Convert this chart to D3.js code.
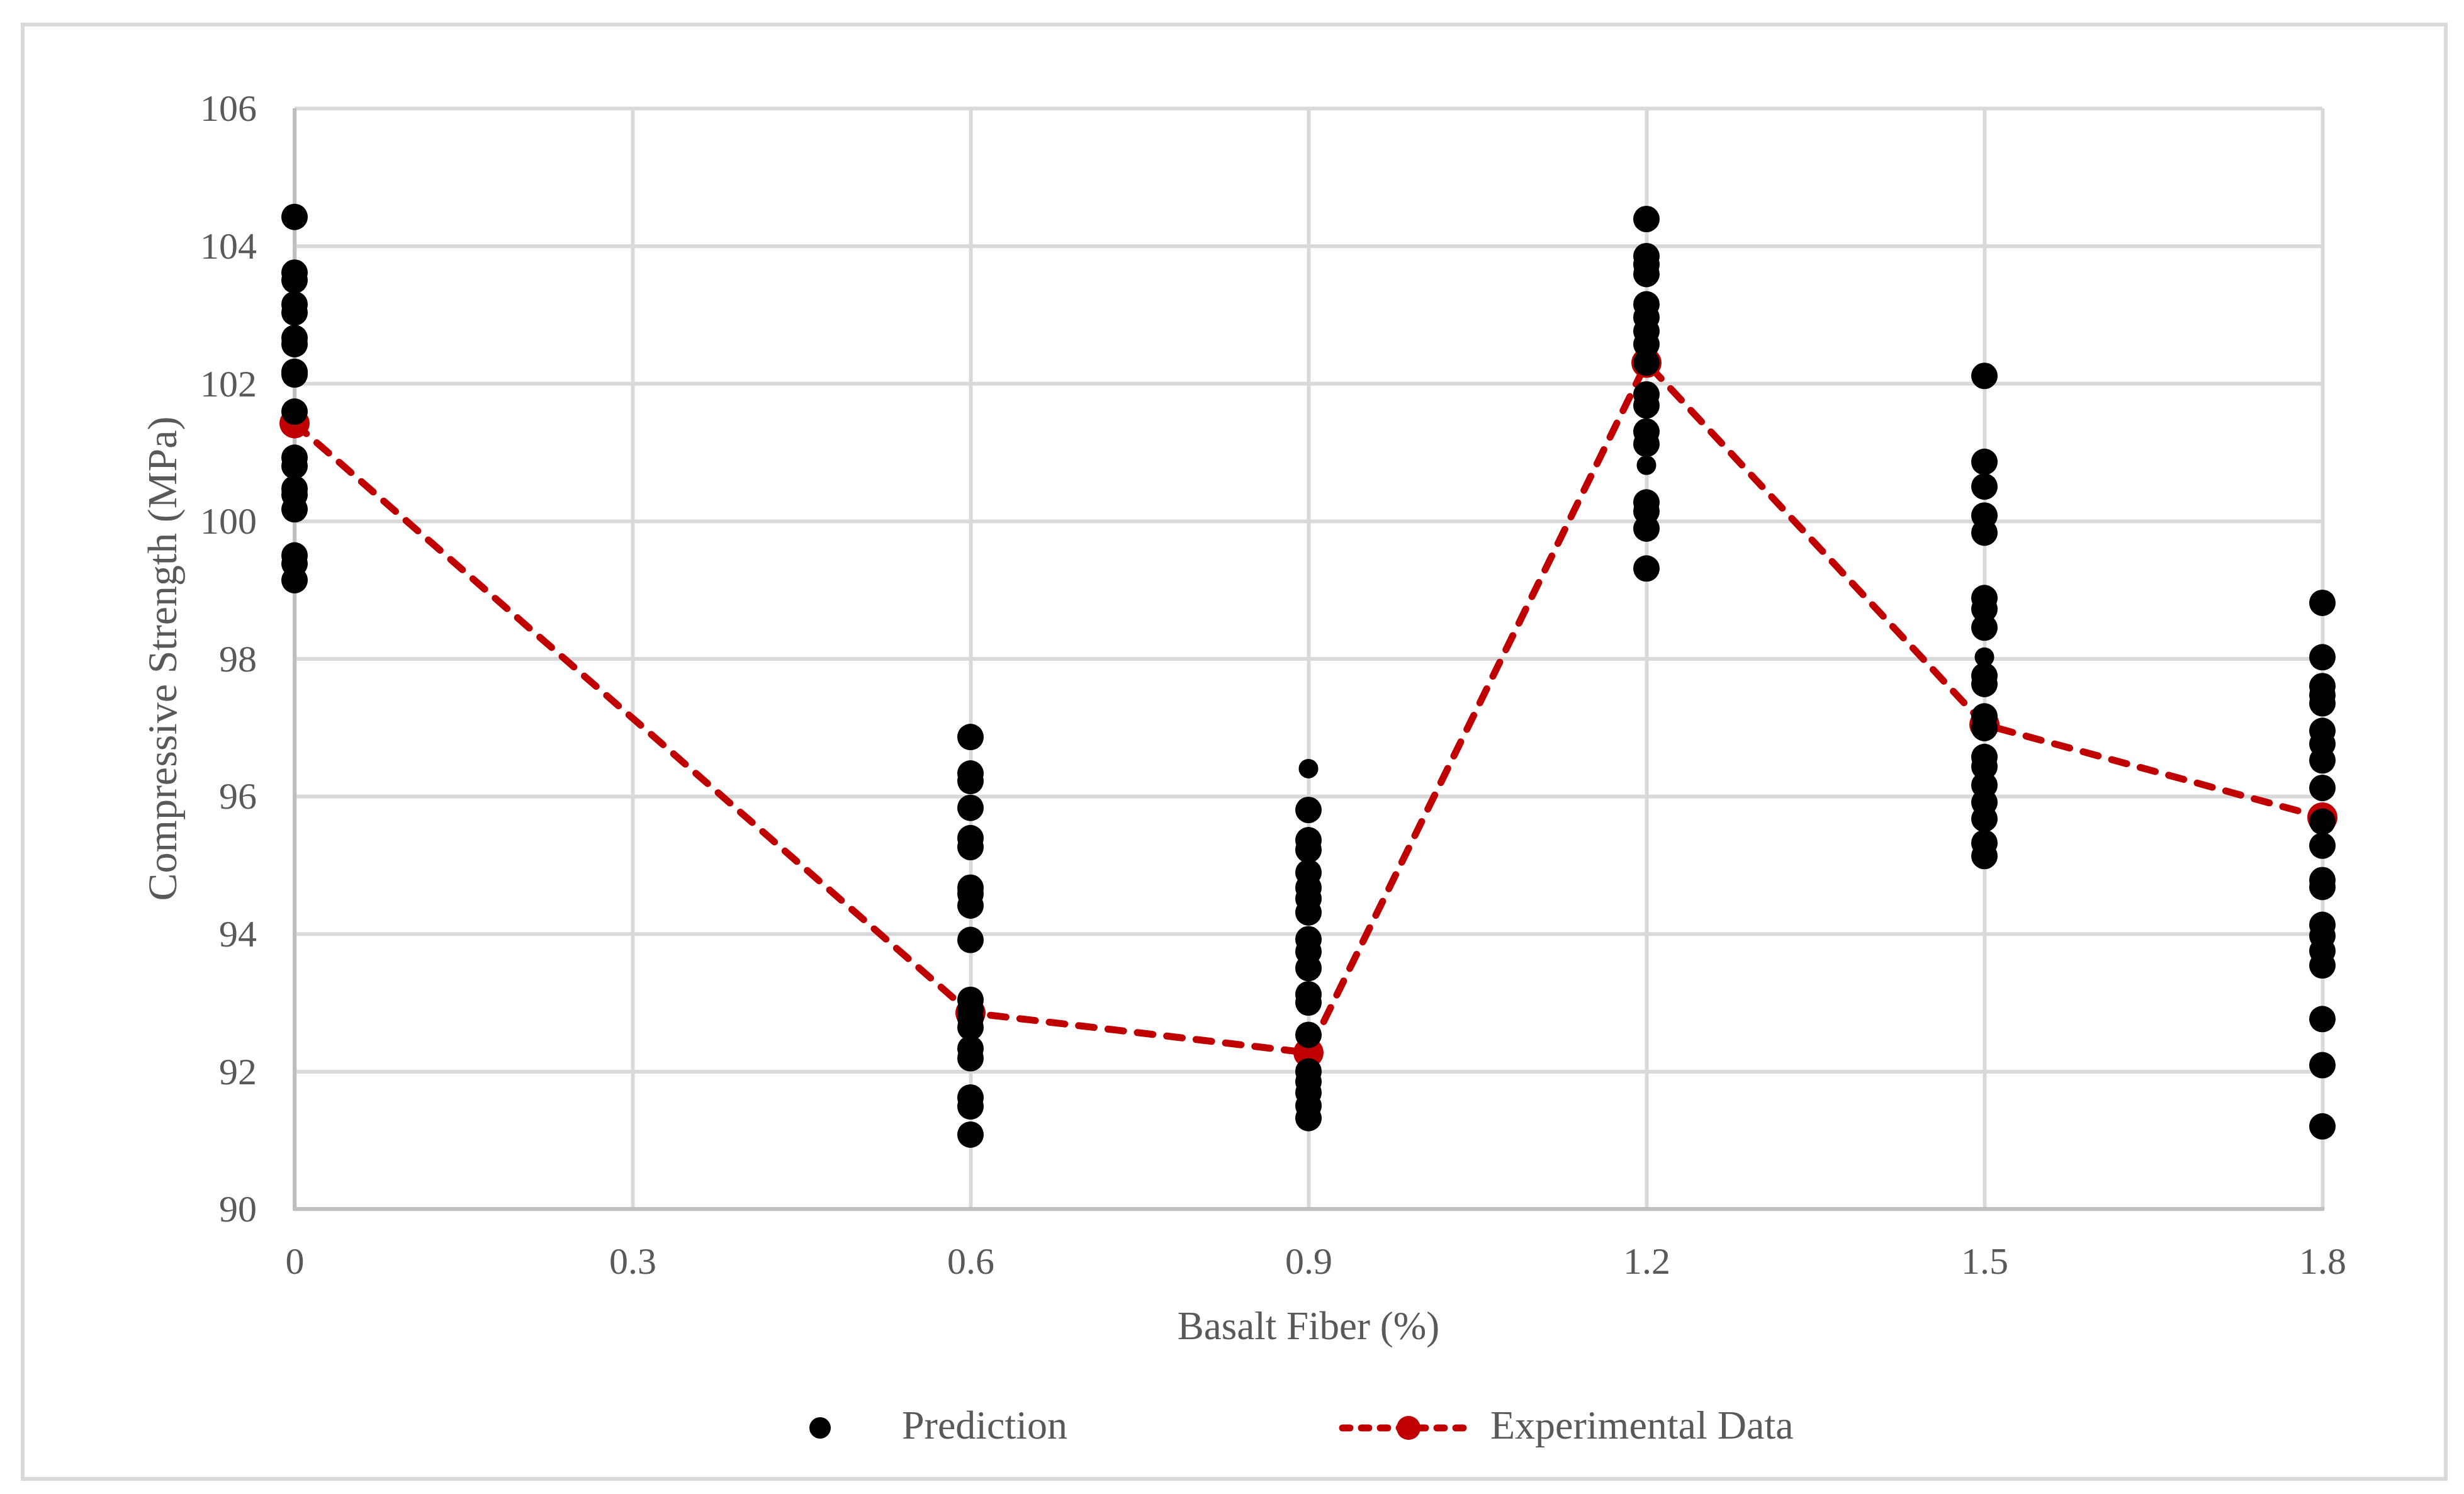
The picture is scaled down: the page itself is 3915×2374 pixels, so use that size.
<!DOCTYPE html>
<html>
<head>
<meta charset="utf-8">
<script src="https://cdn.jsdelivr.net/npm/d3@7"></script>
<style>
  html, body { margin: 0; padding: 0; background: #ffffff; }
  svg text { font-family: "Palatino Linotype", "Book Antiqua", Palatino, "Liberation Serif", serif; fill: #595959; }
</style>
</head>
<body>
<svg id="chart" width="3915" height="2374"></svg>
<script>
// ---------- data ----------
const fiberLevels = [0, 0.6, 0.9, 1.2, 1.5, 1.8];
const xTickLabels = ["0", "0.3", "0.6", "0.9", "1.2", "1.5", "1.8"];
const xTickValues = [0, 0.3, 0.6, 0.9, 1.2, 1.5, 1.8];
const yTickValues = [90, 92, 94, 96, 98, 100, 102, 104, 106];

const experimental = [101.42, 92.85, 92.27, 102.30, 97.04, 95.69];

const pred00 = [104.42, 103.61, 103.50, 103.15, 103.03, 102.66, 102.57, 102.17, 102.13, 101.59, 100.92, 100.80, 100.47, 100.38, 100.17, 99.50, 99.38, 99.14];
const pred06 = [96.86, 96.33, 96.22, 95.83, 95.39, 95.26, 94.67, 94.58, 94.41, 93.91, 93.04, 92.90, 92.77, 92.64, 92.33, 92.19, 91.62, 91.49, 91.08];
const pred09 = [95.80, 95.36, 95.22, 94.89, 94.67, 94.51, 94.31, 93.92, 93.74, 93.50, 93.12, 93.00, 92.53, 92.00, 91.85, 91.69, 91.50, 91.32];
const pred12 = [104.39, 103.85, 103.73, 103.59, 103.15, 102.96, 102.76, 102.57, 102.30, 101.84, 101.68, 101.30, 101.12, 100.27, 100.14, 99.89, 99.31];
const pred15 = [102.11, 100.86, 100.50, 100.08, 99.83, 98.88, 98.72, 98.45, 97.75, 97.63, 97.16, 96.99, 96.57, 96.43, 96.16, 95.91, 95.67, 95.32, 95.13];
const pred18 = [98.81, 98.02, 97.60, 97.47, 97.35, 96.95, 96.76, 96.52, 96.12, 95.63, 95.28, 94.78, 94.68, 94.13, 93.97, 93.75, 93.54, 92.76, 92.09, 91.20];
// a few prediction points drawn with a smaller marker in the original
const predSmallX = [0.9, 1.2, 1.5];
const predSmallY = [96.40, 100.81, 98.02];

const predictionColumns = [pred00, pred06, pred09, pred12, pred15, pred18];

// ---------- layout ----------
const svg = d3.select("#chart");
const W = 3915, H = 2374;
const plot = { left: 468, right: 3690, top: 172, bottom: 1921 };
const textColor = "#595959";
const gridColor = "#d9d9d9";
const axisColor = "#bfbfbf";
const red = "#c00000";
const fontSize = 60;

const x = d3.scaleLinear().domain([0, 1.8]).range([plot.left, plot.right]);
const y = d3.scaleLinear().domain([90, 106]).range([plot.bottom, plot.top]);

// outer border
svg.append("rect")
  .attr("x", 36).attr("y", 39)
  .attr("width", 3850).attr("height", 2311)
  .attr("fill", "#ffffff")
  .attr("stroke", gridColor).attr("stroke-width", 6);

// horizontal gridlines
const yAxis = d3.axisLeft(y).tickValues(yTickValues).tickSize(-(plot.right - plot.left)).tickPadding(60).tickFormat(d3.format("d"));
const gy = svg.append("g").attr("transform", `translate(${plot.left},0)`).call(yAxis);
gy.select(".domain").remove();
gy.selectAll(".tick line").attr("stroke", gridColor).attr("stroke-width", 6);
gy.selectAll(".tick text")
  .attr("font-size", fontSize)
  .attr("fill", textColor)
  .attr("dy", "0.33em");

// vertical gridlines
const xAxis = d3.axisBottom(x).tickValues(xTickValues).tickSize(-(plot.bottom - plot.top)).tickPadding(0)
  .tickFormat((d, i) => xTickLabels[i]);
const gx = svg.append("g").attr("transform", `translate(0,${plot.bottom})`).call(xAxis);
gx.select(".domain").remove();
gx.selectAll(".tick line").attr("stroke", gridColor).attr("stroke-width", 6);
gx.selectAll(".tick text")
  .attr("font-size", fontSize)
  .attr("fill", textColor)
  .attr("y", 103).attr("dy", 0);

// axis lines
svg.append("line")
  .attr("x1", x(0)).attr("x2", x(0)).attr("y1", y(106)).attr("y2", y(90))
  .attr("stroke", axisColor).attr("stroke-width", 6);
svg.append("line")
  .attr("x1", x(0) - 3).attr("x2", x(1.8) + 3).attr("y1", y(90)).attr("y2", y(90))
  .attr("stroke", axisColor).attr("stroke-width", 6);

// axis titles
svg.append("text")
  .attr("x", (plot.left + plot.right) / 2).attr("y", 2128)
  .attr("text-anchor", "middle")
  .attr("font-size", 63)
  .text("Basalt Fiber (%)");
svg.append("text")
  .attr("transform", `translate(280,${(plot.top + plot.bottom) / 2}) rotate(-90)`)
  .attr("text-anchor", "middle")
  .attr("font-size", 66)
  .text("Compressive Strength (MPa)");

// experimental series
const expData = fiberLevels.map((f, i) => ({ x: f, y: experimental[i] }));
const line = d3.line().x(d => x(d.x)).y(d => y(d.y));
svg.append("path")
  .datum(expData)
  .attr("d", line)
  .attr("fill", "none")
  .attr("stroke", red)
  .attr("stroke-width", 11)
  .attr("stroke-linecap", "round")
  .attr("stroke-dasharray", "25,22");
svg.append("g").selectAll("circle")
  .data(expData).join("circle")
  .attr("cx", d => x(d.x)).attr("cy", d => y(d.y))
  .attr("r", 24)
  .attr("fill", red);

// prediction series
const predData = [];
predictionColumns.forEach((col, i) => col.forEach(v => predData.push({ x: fiberLevels[i], y: v })));
svg.append("g").selectAll("circle")
  .data(predData).join("circle")
  .attr("cx", d => x(d.x)).attr("cy", d => y(d.y))
  .attr("r", 21)
  .attr("fill", "#000000");
const predSmall = predSmallX.map((f, i) => ({ x: f, y: predSmallY[i] }));
svg.append("g").selectAll("circle")
  .data(predSmall).join("circle")
  .attr("cx", d => x(d.x)).attr("cy", d => y(d.y))
  .attr("r", 15.5)
  .attr("fill", "#000000");

// legend
const legY = 2269;
svg.append("circle").attr("cx", 1303).attr("cy", legY).attr("r", 17).attr("fill", "#000000");
svg.append("text").attr("x", 1433).attr("y", legY + 17).attr("font-size", 64).text("Prediction");
svg.append("line")
  .attr("x1", 2133).attr("x2", 2340).attr("y1", legY).attr("y2", legY)
  .attr("stroke", red).attr("stroke-width", 11)
  .attr("stroke-linecap", "round").attr("stroke-dasharray", "12,18");
svg.append("circle").attr("cx", 2238).attr("cy", legY).attr("r", 19).attr("fill", red);
svg.append("text").attr("x", 2368).attr("y", legY + 17).attr("font-size", 64).text("Experimental Data");
</script>
</body>
</html>
